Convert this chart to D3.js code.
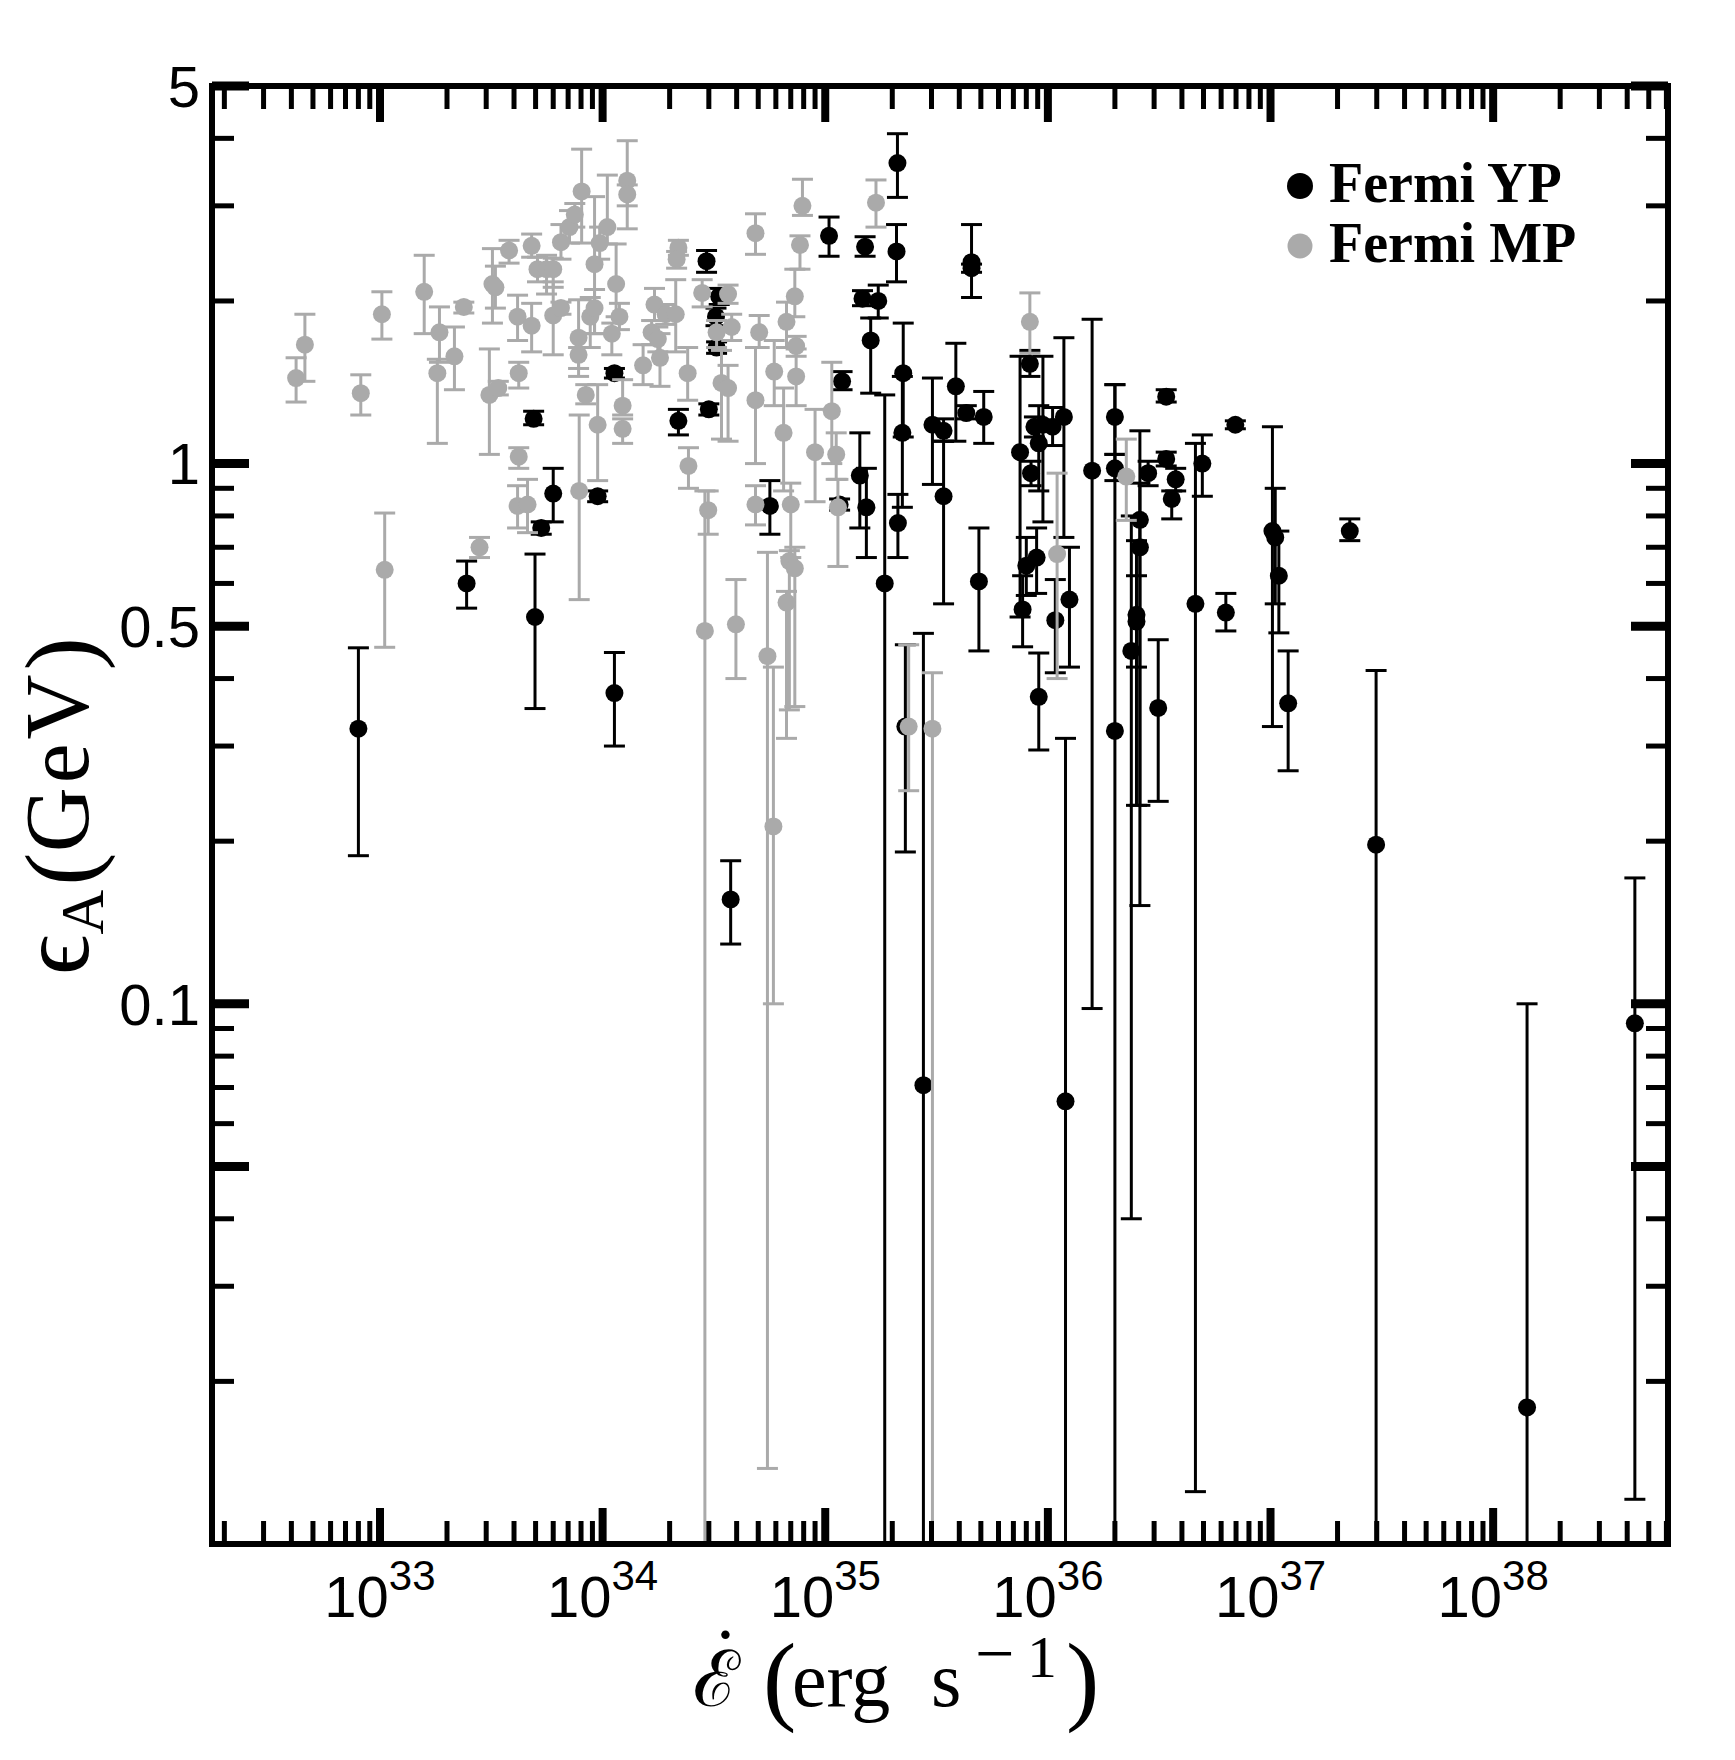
<!DOCTYPE html>
<html>
<head>
<meta charset="utf-8">
<script src="https://cdn.jsdelivr.net/npm/d3@7"></script>
<style>
	body { margin: 0; background: #fff; }
</style>
</head>
<body>
<svg id="chart" width="1735" height="1760"></svg>
<script>
// each row: [Edot (erg/s), eps_A (GeV), lower bound, upper bound]
var ypPoints = [
	[8.0e32, 0.323, 0.188, 0.456], [2.45e33, 0.60, 0.54, 0.66], [4.97e33, 0.52, 0.352, 0.68],
	[4.9e33, 1.21, 1.18, 1.25], [6.0e33, 0.88, 0.78, 0.98], [5.3e33, 0.76, 0.74, 0.78],
	[9.5e33, 0.87, 0.85, 0.89], [1.13e34, 1.47, 1.44, 1.50], [1.13e34, 0.376, 0.30, 0.447],
	[2.19e34, 1.20, 1.13, 1.26], [2.93e34, 2.37, 2.26, 2.48], [3.34e34, 2.04, 1.97, 2.11],
	[3.23e34, 1.87, 1.80, 1.94], [3.25e34, 1.64, 1.60, 1.68], [3.0e34, 1.26, 1.23, 1.29],
	[3.76e34, 0.156, 0.129, 0.184], [5.64e34, 0.835, 0.74, 0.93],
	[1.04e35, 2.64, 2.42, 2.86], [1.51e35, 2.52, 2.42, 2.63], [2.11e35, 3.60, 3.11, 4.08],
	[2.09e35, 2.47, 2.17, 2.77], [4.54e35, 2.36, 2.03, 2.77], [4.54e35, 2.30, 2.26, 2.34],
	[1.47e35, 2.02, 1.96, 2.09], [1.73e35, 2.0, 1.86, 2.14], [1.6e35, 1.69, 1.35, 1.86],
	[2.24e35, 1.47, 1.12, 1.82], [1.19e35, 1.42, 1.37, 1.48], [3.86e35, 1.39, 1.10, 1.67],
	[3.03e35, 1.18, 0.915, 1.44], [3.4e35, 1.15, 1.10, 1.21], [4.3e35, 1.24, 1.21, 1.28],
	[5.15e35, 1.22, 1.09, 1.36], [2.22e35, 1.14, 0.83, 1.45], [1.43e35, 0.95, 0.76, 1.14],
	[1.53e35, 0.83, 0.67, 0.98], [1.16e35, 0.84, 0.82, 0.86], [2.12e35, 0.776, 0.67, 0.877],
	[1.85e35, 0.60, 0.0098, 1.34], [3.4e35, 0.87, 0.55, 1.10], [4.9e35, 0.605, 0.45, 0.76],
	[2.29e35, 0.326, 0.191, 0.462], [2.76e35, 0.0707, 0.0098, 0.485],
	[8.3e35, 1.53, 1.45, 1.62], [7.5e35, 1.05, 0.52, 1.58], [8.4e35, 0.96, 0.91, 1.01],
	[9.5e35, 1.18, 0.78, 1.58], [8.7e35, 1.17, 1.12, 1.22], [1.05e36, 1.17, 1.08, 1.27],
	[1.18e36, 1.22, 0.73, 1.71], [9.1e35, 1.09, 0.89, 1.28], [7.7e35, 0.537, 0.458, 0.62],
	[8.0e35, 0.647, 0.57, 0.73], [8.9e35, 0.67, 0.575, 0.76], [9.1e35, 0.37, 0.295, 0.446],
	[1.08e36, 0.513, 0.41, 0.61], [1.25e36, 0.56, 0.42, 0.70], [1.2e36, 0.066, 0.0098, 0.31],
	[1.58e36, 0.97, 0.098, 1.85], [2.0e36, 1.22, 1.04, 1.40], [2.0e36, 0.98, 0.93, 1.04],
	[2.0e36, 0.32, 0.0098, 1.40], [2.59e36, 0.787, 0.152, 1.15], [2.59e36, 0.70, 0.233, 0.92],
	[2.5e36, 0.525, 0.233, 0.72], [2.5e36, 0.51, 0.42, 0.62], [2.37e36, 0.45, 0.04, 0.80],
	[2.82e36, 0.96, 0.91, 1.01], [3.4e36, 1.33, 1.30, 1.37], [3.4e36, 1.02, 0.99, 1.05],
	[3.75e36, 0.935, 0.89, 0.98], [3.6e36, 0.86, 0.79, 0.89], [3.13e36, 0.353, 0.237, 0.472],
	[4.94e36, 1.0, 0.87, 1.13], [4.6e36, 0.55, 0.0125, 1.09], [6.3e36, 0.53, 0.49, 0.575],
	[6.95e36, 1.18, 1.16, 1.20], [1.02e37, 0.75, 0.326, 1.17], [1.05e37, 0.73, 0.55, 0.90],
	[1.09e37, 0.62, 0.486, 0.75], [1.2e37, 0.36, 0.27, 0.45], [2.27e37, 0.75, 0.72, 0.79],
	[2.98e37, 0.197, 0.0098, 0.414], [1.42e38, 0.0179, 0.0098, 0.1], [4.33e38, 0.092, 0.0121, 0.171]
];

var mpPoints = [
	[4.2e32, 1.44, 1.30, 1.57], [4.6e32, 1.66, 1.42, 1.89], [8.2e32, 1.35, 1.23, 1.46],
	[1.02e33, 1.89, 1.70, 2.08], [1.58e33, 2.08, 1.74, 2.43], [1.85e33, 1.75, 1.54, 1.95],
	[1.81e33, 1.47, 1.09, 1.56], [2.16e33, 1.58, 1.37, 1.79], [2.38e33, 1.95, 1.90, 1.99],
	[1.05e33, 0.636, 0.457, 0.81], [2.8e33, 0.70, 0.67, 0.73], [3.2e33, 2.15, 1.82, 2.50],
	[3.3e33, 2.12, 1.94, 2.32], [3.8e33, 2.48, 2.35, 2.59], [3.1e33, 1.34, 1.04, 1.63],
	[3.4e33, 1.38, 1.34, 1.42], [4.15e33, 1.87, 1.69, 2.05], [4.2e33, 1.47, 1.38, 1.54],
	[4.2e33, 1.03, 0.98, 1.07], [4.15e33, 0.835, 0.76, 0.91], [4.6e33, 0.84, 0.745, 0.935],
	[4.8e33, 1.80, 1.61, 1.98], [4.8e33, 2.53, 2.41, 2.66], [5.1e33, 2.29, 2.17, 2.41],
	[5.6e33, 2.29, 2.06, 2.43], [6.0e33, 2.29, 2.12, 2.40], [6.0e33, 1.88, 1.59, 2.17],
	[6.5e33, 1.94, 1.89, 1.99], [6.5e33, 2.57, 2.39, 2.77], [7.1e33, 2.74, 2.56, 2.94],
	[7.5e33, 2.89, 2.74, 3.03], [8.05e33, 3.19, 2.56, 3.82], [7.8e33, 1.71, 1.45, 2.01],
	[7.8e33, 1.59, 1.50, 1.64], [7.85e33, 0.89, 0.56, 1.23], [8.4e33, 1.34, 1.29, 1.40],
	[8.8e33, 1.87, 1.64, 2.03], [9.2e33, 1.94, 1.74, 2.10], [9.2e33, 2.34, 1.74, 3.12],
	[9.7e33, 2.56, 2.39, 2.74], [1.05e34, 2.74, 2.55, 3.42], [9.5e33, 1.18, 0.93, 1.40],
	[1.15e34, 2.15, 1.87, 2.55], [1.19e34, 1.87, 1.77, 1.98], [1.1e34, 1.74, 1.59, 1.82],
	[1.23e34, 1.28, 1.23, 1.43], [1.23e34, 1.16, 1.09, 1.21], [1.29e34, 3.34, 3.0, 3.96],
	[1.29e34, 3.15, 2.72, 3.28], [1.52e34, 1.52, 1.40, 1.66], [1.71e34, 1.97, 1.84, 2.11],
	[1.66e34, 1.75, 1.66, 1.84], [1.77e34, 1.70, 1.61, 1.79], [1.81e34, 1.57, 1.39, 1.74],
	[1.92e34, 1.89, 1.81, 1.97], [2.13e34, 1.89, 1.61, 2.19], [2.19e34, 2.51, 2.43, 2.59],
	[2.15e34, 2.39, 2.30, 2.47], [2.41e34, 1.47, 1.31, 1.64], [2.43e34, 0.99, 0.90, 1.07],
	[2.8e34, 2.07, 1.95, 2.19], [2.98e34, 0.82, 0.74, 0.89], [2.88e34, 0.49, 0.0098, 0.89],
	[3.25e34, 1.75, 1.64, 1.84], [3.8e34, 1.79, 1.69, 1.89], [3.66e34, 2.06, 1.98, 2.14],
	[3.42e34, 1.41, 1.11, 1.62], [3.66e34, 1.38, 1.10, 1.52], [3.97e34, 0.504, 0.40, 0.61],
	[4.86e34, 2.67, 2.44, 2.90], [5.05e34, 1.75, 1.64, 1.88], [4.86e34, 1.31, 1.0, 1.64],
	[4.86e34, 0.84, 0.77, 0.91], [7.9e34, 3.0, 2.88, 3.36], [7.7e34, 2.54, 2.29, 2.64],
	[7.3e34, 2.04, 1.87, 2.29], [6.7e34, 1.83, 1.64, 1.99], [7.4e34, 1.65, 1.58, 1.72],
	[5.9e34, 1.48, 1.28, 1.69], [7.4e34, 1.45, 1.28, 1.63], [6.5e34, 1.14, 0.89, 1.38],
	[9.0e34, 1.05, 0.85, 1.26], [1.07e35, 1.25, 1.0, 1.54], [1.12e35, 1.04, 0.935, 1.14],
	[1.14e35, 0.83, 0.645, 0.935], [7.0e34, 0.84, 0.67, 0.92], [6.9e34, 0.66, 0.35, 0.69],
	[7.3e34, 0.64, 0.355, 0.70], [6.7e34, 0.553, 0.31, 0.58], [5.5e34, 0.44, 0.0138, 0.685],
	[5.85e34, 0.213, 0.10, 0.42], [1.69e35, 3.04, 2.74, 3.35], [2.37e35, 0.326, 0.248, 0.462],
	[3.03e35, 0.323, 0.0098, 0.41], [8.3e35, 1.83, 1.60, 2.07], [1.1e36, 0.68, 0.40, 0.96],
	[2.25e36, 0.946, 0.785, 1.11]
];

var yTickLabels = [5, 1, 0.5, 0.1];
var yMajorTicks = [5, 1, 0.5, 0.1, 0.05];
var xDecades = [33, 34, 35, 36, 37, 38];
var seriesNames = ["Fermi YP", "Fermi MP"];
var seriesColors = ["#000000", "#aaaaaa"];

(function() {

	var svg = d3.select("#chart");
	var plotLeft = 212, plotRight = 1668, plotTop = 86, plotBottom = 1544;

	var x = d3.scaleLog().domain([1.76e32, 6.1e38]).range([plotLeft, plotRight]);
	var y = d3.scaleLog().domain([0.01, 5]).range([plotBottom, plotTop]);

	svg.append("rect").attr("width", 1735).attr("height", 1760).attr("fill", "#fff");

	svg.append("clipPath").attr("id", "plotClip")
		.append("rect")
			.attr("x", plotLeft).attr("y", plotTop)
			.attr("width", plotRight - plotLeft).attr("height", plotBottom - plotTop);

	var plot = svg.append("g").attr("clip-path", "url(#plotClip)");

	// error bars then dots, YP first so MP sits on top
	var capHalf = 10.5;
	var dotRadius = 9;
	var drawSeries = function(points, color) {
		var g = plot.append("g");
		var bars = g.selectAll("g.bar")
			.data(points).enter()
			.append("g")
				.attr("class", "bar")
				.attr("stroke", color)
				.attr("stroke-width", 3);
		bars.append("line")
			.attr("x1", function(d) { return x(d[0]); })
			.attr("x2", function(d) { return x(d[0]); })
			.attr("y1", function(d) { return y(d[2]); })
			.attr("y2", function(d) { return y(d[3]); });
		bars.append("line")
			.attr("x1", function(d) { return x(d[0]) - capHalf; })
			.attr("x2", function(d) { return x(d[0]) + capHalf; })
			.attr("y1", function(d) { return y(d[2]); })
			.attr("y2", function(d) { return y(d[2]); });
		bars.append("line")
			.attr("x1", function(d) { return x(d[0]) - capHalf; })
			.attr("x2", function(d) { return x(d[0]) + capHalf; })
			.attr("y1", function(d) { return y(d[3]); })
			.attr("y2", function(d) { return y(d[3]); });
		g.selectAll("circle")
			.data(points).enter()
			.append("circle")
				.attr("cx", function(d) { return x(d[0]); })
				.attr("cy", function(d) { return y(d[1]); })
				.attr("r", dotRadius)
				.attr("fill", color);
	};
	drawSeries(ypPoints, seriesColors[0]);
	drawSeries(mpPoints, seriesColors[1]);

	// ticks on all four sides, pointing inward
	var ticks = svg.append("g").attr("stroke", "#000");
	var xTicks = [];
	for (var n = 32; n <= 38; n++) {
		for (var m = 1; m <= 9; m++) {
			var v = m * Math.pow(10, n);
			if (v >= x.domain()[0] && v <= x.domain()[1]) xTicks.push({v: v, major: m == 1});
		}
	}
	xTicks.forEach(function(t) {
		var len = t.major ? 36 : 23;
		var w = t.major ? 8 : 5;
		ticks.append("line").attr("x1", x(t.v)).attr("x2", x(t.v))
			.attr("y1", plotBottom).attr("y2", plotBottom - len).attr("stroke-width", w);
		ticks.append("line").attr("x1", x(t.v)).attr("x2", x(t.v))
			.attr("y1", plotTop).attr("y2", plotTop + len).attr("stroke-width", w);
	});
	var yTicks = [];
	for (var k = -2; k <= 0; k++) {
		for (var j = 1; j <= 9; j++) {
			var yv = j * Math.pow(10, k);
			if (yv > 0.0101 && yv <= 5.0001) {
				yTicks.push({v: yv, major: yMajorTicks.some(function(q) { return Math.abs(q - yv) < 1e-9; })});
			}
		}
	}
	yTicks.forEach(function(t) {
		var len = t.major ? 37 : 22;
		var w = t.major ? 9 : 5;
		ticks.append("line").attr("y1", y(t.v)).attr("y2", y(t.v))
			.attr("x1", plotLeft).attr("x2", plotLeft + len).attr("stroke-width", w);
		ticks.append("line").attr("y1", y(t.v)).attr("y2", y(t.v))
			.attr("x1", plotRight).attr("x2", plotRight - len).attr("stroke-width", w);
	});

	// frame
	svg.append("rect")
		.attr("x", plotLeft).attr("y", plotTop)
		.attr("width", plotRight - plotLeft).attr("height", plotBottom - plotTop)
		.attr("fill", "none").attr("stroke", "#000").attr("stroke-width", 6);

	// tick labels
	var tickFont = "'Liberation Sans', Arial, sans-serif";
	svg.append("g").selectAll("text")
		.data(yTickLabels).enter()
		.append("text")
			.attr("x", 200)
			.attr("y", function(d) { return y(d); })
			.attr("dy", "0.36em")
			.attr("text-anchor", "end")
			.attr("font-family", tickFont)
			.attr("font-size", 58)
			.text(function(d) { return d; });

	var xl = svg.append("g").selectAll("text")
		.data(xDecades).enter()
		.append("text")
			.attr("x", function(d) { return x(Math.pow(10, d)); })
			.attr("y", 1617)
			.attr("text-anchor", "middle")
			.attr("font-family", tickFont)
			.attr("font-size", 58);
	xl.append("tspan").text("10");
	xl.append("tspan").attr("font-size", 42).attr("dy", -27).text(function(d) { return d; });

	// legend
	var legend = svg.append("g").attr("font-family", "'Liberation Serif', 'Times New Roman', serif")
		.attr("font-weight", "bold").attr("font-size", 56);
	seriesNames.forEach(function(name, i) {
		var by = 202 + i * 60;
		legend.append("circle").attr("cx", 1300).attr("cy", by - 16).attr("r", 13 - i * 0.5)
			.attr("fill", seriesColors[i]);
		legend.append("text").attr("x", 1329).attr("y", by).text(name);
	});

	// axis titles
	var serif = "'Liberation Serif', 'DejaVu Serif', serif";
	var xt = svg.append("text").attr("font-family", serif).attr("font-size", 78);
	xt.append("tspan").attr("x", 693).attr("y", 1706).text("\u2130");
	xt.append("tspan").attr("x", 712).attr("y", 1684).attr("font-size", 80).text("\u02d9");
	xt.append("tspan").attr("x", 763).attr("y", 1712).attr("font-size", 100).text("(");
	xt.append("tspan").attr("x", 792).attr("y", 1706).text("erg");
	xt.append("tspan").attr("x", 931).attr("y", 1706).text("s");
	xt.append("tspan").attr("x", 975).attr("y", 1677).attr("font-size", 70).text("\u2212");
	xt.append("tspan").attr("x", 1027).attr("y", 1677).attr("font-size", 60).text("1");
	xt.append("tspan").attr("x", 1066).attr("y", 1712).attr("font-size", 100).text(")");

	var yt = svg.append("text")
		.attr("transform", "translate(88,806) rotate(-90)")
		.attr("text-anchor", "middle")
		.attr("font-family", serif)
		.attr("font-size", 90);
	yt.append("tspan").attr("font-size", 100).text("\u03f5");
	yt.append("tspan").attr("font-size", 62).attr("dy", 15).text("A");
	yt.append("tspan").attr("font-size", 100).attr("dy", -9).attr("dx", 4).text("(");
	yt.append("tspan").attr("dy", -6).attr("letter-spacing", 4).text("GeV");
	yt.append("tspan").attr("font-size", 100).attr("dy", 6).text(")");

})();
</script>
</body>
</html>
